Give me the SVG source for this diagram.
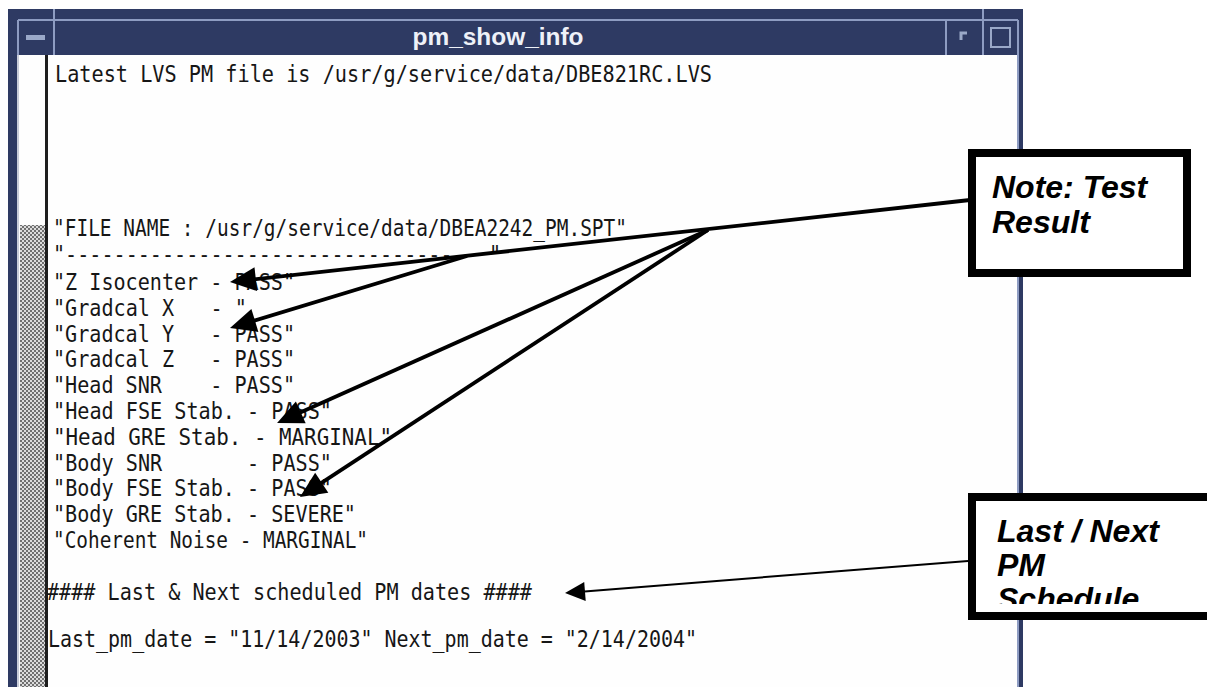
<svg xmlns="http://www.w3.org/2000/svg" width="1207" height="687" viewBox="0 0 1207 687" xml:space="preserve">
<style>
.mono{font-family:"DejaVu Sans Mono","Liberation Mono",monospace;font-size:23px;fill:#161616;white-space:pre}
.note{font-family:"Liberation Sans",Arial,sans-serif;font-size:32px;font-weight:bold;font-style:italic;fill:#000}
.fr{stroke:#8e9cc2;stroke-width:2;fill:none}
.thick{stroke:#000;stroke-width:3.8;fill:none}
.thin{stroke:#000;stroke-width:2;fill:none}
.box{fill:#fff;stroke:#000;stroke-width:8}
</style>
<defs>
<pattern id="chk" width="4" height="4" patternUnits="userSpaceOnUse">
<rect width="4" height="4" fill="#dcdcdc"/>
<rect width="2" height="2" fill="#707070"/>
<rect x="2" y="2" width="2" height="2" fill="#707070"/>
</pattern>
<marker id="ah" markerUnits="userSpaceOnUse" markerWidth="26" markerHeight="24" refX="14" refY="12" orient="auto" overflow="visible">
<path d="M0,0 L26,12 L0,24 z" fill="#000"/>
</marker>
<marker id="ah2" markerUnits="userSpaceOnUse" markerWidth="20" markerHeight="19" refX="10" refY="9.5" orient="auto" overflow="visible">
<path d="M0,0 L20,9.5 L0,19 z" fill="#000"/>
</marker>
<clipPath id="clipLast"><rect x="976" y="501" width="227" height="103"/></clipPath>
</defs>
<rect width="1207" height="687" fill="#fff"/>
<g id="window">
<rect x="8" y="9" width="1015" height="678" fill="#2e3a63"/>
<rect x="48" y="55" width="969" height="632" fill="#fefefe"/>
<line class="fr" x1="18" y1="20" x2="1018" y2="20"/>
<line class="fr" x1="18" y1="20" x2="18" y2="55"/>
<line class="fr" x1="54" y1="9" x2="54" y2="55"/>
<line class="fr" x1="946" y1="20" x2="946" y2="55"/>
<line class="fr" x1="983" y1="9" x2="983" y2="55"/>
<line class="fr" x1="1018" y1="20" x2="1018" y2="687"/>
<rect x="26" y="35" width="19" height="5" fill="#9aa8c8"/>
<path d="M961,40 V33 H967" stroke="#9aa8c8" stroke-width="3" fill="none"/>
<rect x="991" y="28" width="19" height="19" fill="none" stroke="#9aa8c8" stroke-width="2"/>
<text x="498" y="45" text-anchor="middle" font-family="Liberation Sans,Arial,sans-serif" font-size="24" font-weight="bold" fill="#eef1f8" textLength="171" lengthAdjust="spacingAndGlyphs">pm_show_info</text>
<rect x="17" y="55" width="29" height="632" fill="#fefefe"/>
<rect x="17" y="55" width="2" height="632" fill="#c8ccd8"/>
<rect x="20" y="225" width="25" height="462" fill="url(#chk)"/>
<rect x="45" y="55" width="3" height="632" fill="#1e1e1e"/>
</g>
<g id="content">
<text class="mono" x="55" y="82" textLength="657" lengthAdjust="spacingAndGlyphs">Latest LVS PM file is /usr/g/service/data/DBE821RC.LVS</text>
<text class="mono" x="53" y="236" textLength="574" lengthAdjust="spacingAndGlyphs">"FILE NAME : /usr/g/service/data/DBEA2242_PM.SPT"</text>
<text class="mono" x="53" y="262" textLength="448" lengthAdjust="spacingAndGlyphs">"---------------------------------  "</text>
<text class="mono" x="53" y="290" textLength="242" lengthAdjust="spacingAndGlyphs">"Z Isocenter - PASS"</text>
<text class="mono" x="53" y="315.8" textLength="194" lengthAdjust="spacingAndGlyphs">"Gradcal X   - "</text>
<text class="mono" x="53" y="341.6" textLength="242" lengthAdjust="spacingAndGlyphs">"Gradcal Y   - PASS"</text>
<text class="mono" x="53" y="367.4" textLength="242" lengthAdjust="spacingAndGlyphs">"Gradcal Z   - PASS"</text>
<text class="mono" x="53" y="393.2" textLength="242" lengthAdjust="spacingAndGlyphs">"Head SNR    - PASS"</text>
<text class="mono" x="53" y="419" textLength="279" lengthAdjust="spacingAndGlyphs">"Head FSE Stab. - PASS"</text>
<text class="mono" x="53" y="444.8" textLength="339" lengthAdjust="spacingAndGlyphs">"Head GRE Stab. - MARGINAL"</text>
<text class="mono" x="53" y="470.6" textLength="279" lengthAdjust="spacingAndGlyphs">"Body SNR       - PASS"</text>
<text class="mono" x="53" y="496.4" textLength="279" lengthAdjust="spacingAndGlyphs">"Body FSE Stab. - PASS"</text>
<text class="mono" x="53" y="522.2" textLength="303" lengthAdjust="spacingAndGlyphs">"Body GRE Stab. - SEVERE"</text>
<text class="mono" x="53" y="548" textLength="315" lengthAdjust="spacingAndGlyphs">"Coherent Noise - MARGINAL"</text>
<text class="mono" x="47" y="600" textLength="485" lengthAdjust="spacingAndGlyphs">#### Last &amp; Next scheduled PM dates ####</text>
<text class="mono" x="48" y="647" textLength="649" lengthAdjust="spacingAndGlyphs">Last_pm_date = "11/14/2003" Next_pm_date = "2/14/2004"</text>
</g>
<g id="connectors">
<line class="thick" x1="970" y1="200" x2="241.9" y2="280.7" marker-end="url(#ah)"/>
<line class="thick" x1="467" y1="256" x2="241.5" y2="324.5" marker-end="url(#ah)"/>
<line class="thick" x1="708" y1="230" x2="288" y2="418.1" marker-end="url(#ah)"/>
<line class="thick" x1="708" y1="230" x2="310" y2="490.4" marker-end="url(#ah)"/>
<line class="thin" x1="968" y1="561" x2="575" y2="592.2" marker-end="url(#ah2)"/>
</g>
<g id="note-test-result">
<rect class="box" x="972" y="153" width="215" height="120"/>
<text class="note" x="992" y="198">Note: Test</text>
<text class="note" x="992" y="233">Result</text>
</g>
<g id="note-pm-schedule">
<rect class="box" x="972" y="497" width="240" height="119"/>
<g clip-path="url(#clipLast)">
<text class="note" x="997" y="542">Last / Next</text>
<text class="note" x="997" y="576">PM</text>
<text class="note" x="997" y="610">Schedule</text>
</g>
</g>
</svg>
